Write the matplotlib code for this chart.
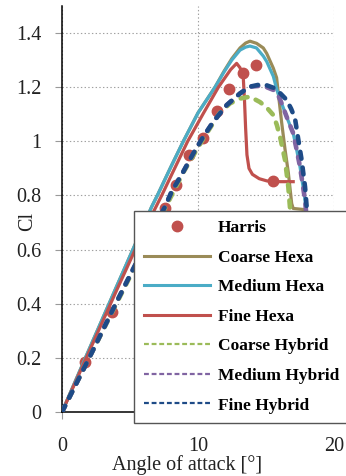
import matplotlib
matplotlib.use('Agg')
import matplotlib.pyplot as plt
from matplotlib.lines import Line2D
from matplotlib.ticker import FuncFormatter

plt.rcParams['font.family'] = ['Liberation Serif', 'DejaVu Serif']
plt.rcParams['lines.scale_dashes'] = False

############### DATA: lift coefficient vs angle of attack ###############
harris_aoa = [1.7, 3.65, 7.57, 8.38, 9.36, 10.39, 11.37, 12.3, 13.28, 14.28, 15.54]
harris_cl = [0.184, 0.368, 0.752, 0.839, 0.949, 1.011, 1.112, 1.192, 1.253, 1.282, 0.855]

coarse_hexa_aoa = [0, 2, 4, 6, 6.59, 7.01, 8.0, 8.92, 10.0, 11.25, 11.9, 12.48, 13.09, 13.5, 13.82,
                   14.31, 14.8, 15.05, 15.54, 15.78, 15.9, 16.15, 16.4, 16.64, 16.89, 17.0, 17.8, 18.2]
coarse_hexa_cl = [0, 0.232, 0.462, 0.69, 0.758, 0.8, 0.905, 1.0, 1.105, 1.2, 1.258, 1.305, 1.345, 1.363, 1.37,
                  1.362, 1.345, 1.325, 1.27, 1.235, 1.18, 1.07, 0.97, 0.885, 0.77, 0.752, 0.748, 0.70]

medium_hexa_aoa = [0, 2, 4, 6, 6.59, 7.01, 8.0, 8.92, 10.0, 11.25, 11.9, 12.48, 13.09, 13.5, 13.82,
                   14.3, 14.8, 15.05, 15.54, 15.8, 16.15, 16.6, 17.0, 17.25, 17.5, 17.7, 17.87, 18.05]
medium_hexa_cl = [0, 0.232, 0.462, 0.69, 0.758, 0.8, 0.905, 1.0, 1.105, 1.2, 1.255, 1.3, 1.337, 1.348, 1.352,
                  1.345, 1.315, 1.295, 1.24, 1.19, 1.14, 1.08, 1.03, 0.97, 0.906, 0.84, 0.783, 0.65]

fine_hexa_aoa = [0, 2, 4, 6, 6.91, 7.33, 8.11, 9.24, 10.39, 11.5, 11.86, 12.4, 12.84, 13.09, 13.33,
                 13.42, 13.5, 13.6, 13.75, 14.0, 14.5, 15.05, 15.54, 16.3, 17.0]
fine_hexa_cl = [0, 0.224, 0.448, 0.668, 0.758, 0.8, 0.882, 1.0, 1.103, 1.2, 1.226, 1.265, 1.288, 1.272, 1.235,
                1.15, 1.05, 0.95, 0.9, 0.878, 0.862, 0.854, 0.851, 0.851, 0.851]

coarse_hybrid_aoa = [0, 2, 4, 6, 7.57, 8.92, 10.39, 11.6, 12.35, 13.09, 13.82, 14.56, 15.05, 15.54,
                     15.8, 16.03, 16.4, 16.64, 16.76, 16.9, 17.0]
coarse_hybrid_cl = [0, 0.2, 0.4, 0.6, 0.752, 0.885, 1.01, 1.105, 1.14, 1.158, 1.165, 1.145, 1.125, 1.097,
                    1.06, 1.017, 0.931, 0.832, 0.758, 0.65, 0.55]

medium_hybrid_aoa = [0, 2, 4, 6, 7.57, 8.06, 8.92, 9.65, 10.39, 11.12, 12.11, 13.09, 13.82, 14.56,
                     15.05, 15.54, 15.9, 16.15, 16.6, 17.0, 17.25, 17.5, 17.7, 17.87, 17.95, 18.05]
medium_hybrid_cl = [0, 0.2, 0.405, 0.605, 0.758, 0.814, 0.888, 0.955, 1.017, 1.072, 1.134, 1.177, 1.202, 1.205,
                    1.2, 1.19, 1.17, 1.14, 1.08, 1.03, 0.97, 0.906, 0.84, 0.783, 0.74, 0.65]

fine_hybrid_aoa = [0, 2, 4, 6, 7.57, 8.06, 8.92, 9.65, 10.39, 11.12, 12.11, 13.09, 13.82, 14.56, 15.05,
                   15.54, 16.0, 16.52, 16.85, 17.13, 17.38, 17.62, 17.87, 17.99, 18.1, 18.2]
fine_hybrid_cl = [0, 0.2, 0.405, 0.605, 0.758, 0.814, 0.888, 0.955, 1.017, 1.072, 1.134, 1.177, 1.202, 1.21, 1.207,
                  1.198, 1.18, 1.153, 1.12, 1.085, 1.005, 0.931, 0.832, 0.758, 0.68, 0.6]

labels = ['Harris', 'Coarse Hexa', 'Medium Hexa', 'Fine Hexa', 'Coarse Hybrid', 'Medium Hybrid', 'Fine Hybrid']
colors = ['#C0504D', '#9A8B58', '#4BACC6', '#C0504D', '#9BBB59', '#8064A2', '#1E4B87']

############### CREATE PLOT: Cl vs Angle of attack ###############
fig = plt.figure(figsize=(3.46, 4.76), dpi=100)
ax = fig.add_axes([62 / 346, 1 - 412 / 476, 272 / 346, 406 / 476])

ax.plot(harris_aoa, harris_cl, 'o', color=colors[0], markersize=7.5, zorder=2)
ax.plot(coarse_hexa_aoa, coarse_hexa_cl, color=colors[1], lw=2.3, zorder=3)
ax.plot(medium_hexa_aoa, medium_hexa_cl, color=colors[2], lw=2.3, zorder=3)
ax.plot(fine_hexa_aoa, fine_hexa_cl, color=colors[3], lw=2.3, zorder=3)
dash = (5.0, 6.4)
for xs, ys, c in [(coarse_hybrid_aoa, coarse_hybrid_cl, colors[4]),
                  (medium_hybrid_aoa, medium_hybrid_cl, colors[5]),
                  (fine_hybrid_aoa, fine_hybrid_cl, colors[6])]:
    ax.plot(xs, ys, color=c, lw=3.3, dashes=dash, dash_capstyle='round', zorder=3)

ax.set_xlim(0, 20)
ax.set_ylim(0, 1.5)
ax.set_xticks([0, 10, 20])
ax.set_yticks([0, 0.2, 0.4, 0.6, 0.8, 1.0, 1.2, 1.4])
ax.yaxis.set_major_formatter(FuncFormatter(lambda v, p: '%g' % round(v, 1)))
ax.grid(True, color='#a0a0a0', linestyle=':', linewidth=0.8, zorder=0)
ax.set_axisbelow(True)

for s in ['top', 'right']:
    ax.spines[s].set_visible(False)
ax.spines['left'].set_linewidth(1.1)
ax.spines['bottom'].set_linewidth(1.1)

ax.tick_params(axis='y', length=5, color='#999999', pad=10, labelsize=14.5, labelcolor='#222222')
ax.tick_params(axis='x', length=5, color='#999999', pad=13, labelsize=14.5, labelcolor='#222222')

ax.set_xlabel('Angle of attack [°]', fontsize=14.5, color='#222222')
ax.xaxis.set_label_coords(0.461, -0.107)
ax.set_ylabel('Cl', fontsize=14.5, color='#222222')
ax.yaxis.set_label_coords(-0.09, 0.47)

handles = [Line2D([], [], ls='none', marker='o', color=colors[0], markersize=7.5),
           Line2D([], [], color=colors[1], lw=2.2),
           Line2D([], [], color=colors[2], lw=2.2),
           Line2D([], [], color=colors[3], lw=2.2)]
for c in colors[4:]:
    handles.append(Line2D([], [], color=c, lw=1.6, dashes=(3.5, 2.0)))

leg = ax.legend(handles, labels, loc='upper left', bbox_to_anchor=(134.3 / 346, 1 - 210.7 / 476),
                bbox_transform=fig.transFigure, borderaxespad=0, fancybox=False, framealpha=1,
                edgecolor='#555555', prop={'weight': 'bold', 'size': 12.5}, handlelength=3.8,
                handletextpad=0.45, labelspacing=0.77, borderpad=0.55)
leg.get_frame().set_linewidth(1.0)
leg.set_zorder(10)

plt.savefig('out.png', dpi=100)
